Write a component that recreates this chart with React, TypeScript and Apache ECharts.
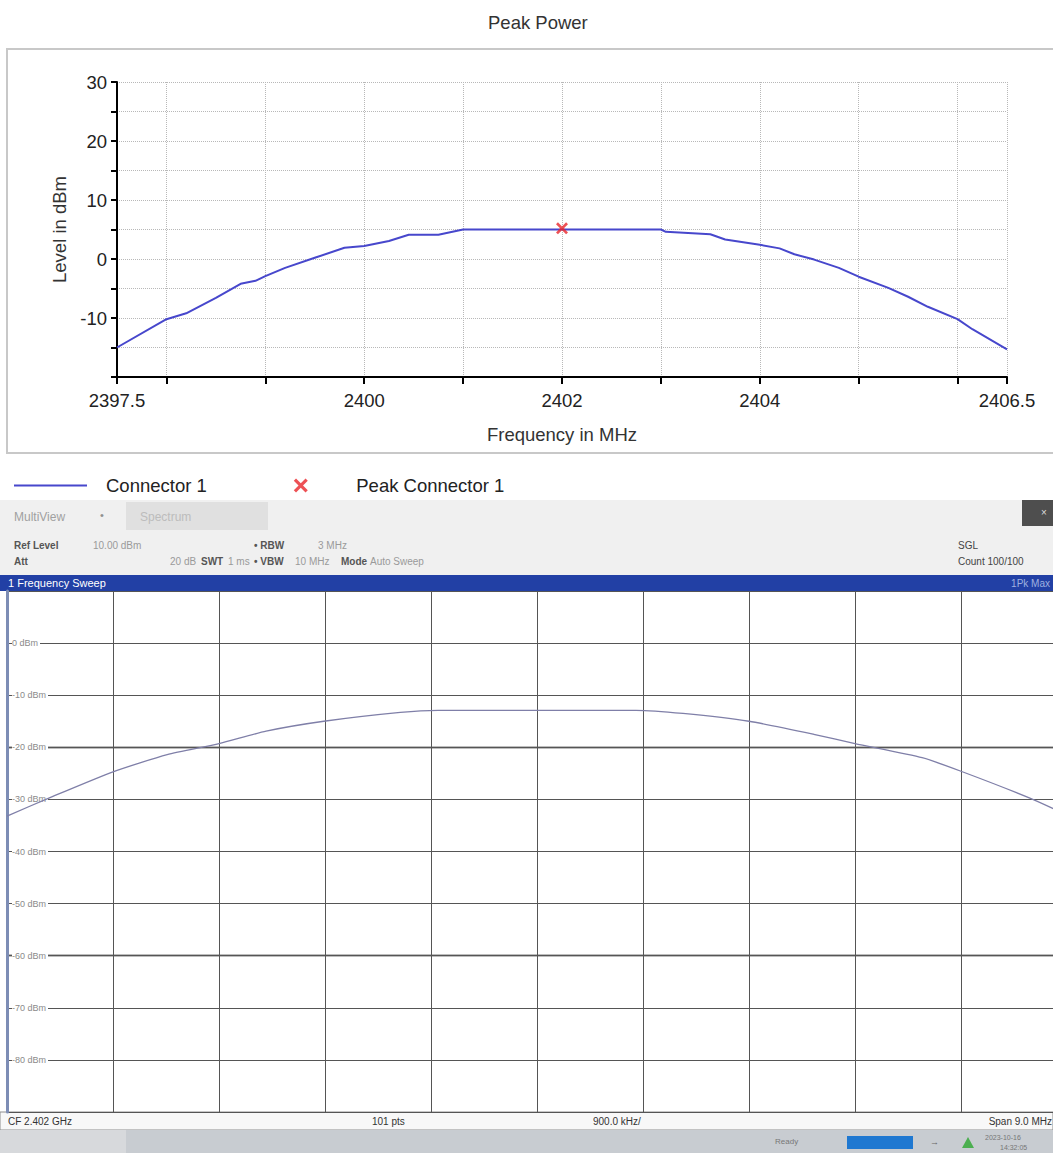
import React, { useEffect, useRef } from "react";
import * as echarts from "echarts";

// ---- Top chart: Peak Power ----
const freqMHz = [2397.5, 2398.0, 2398.2, 2398.5, 2398.75, 2398.9, 2399.0, 2399.2, 2399.5, 2399.8, 2400.0, 2400.25, 2400.45, 2400.75, 2401.0, 2402.0, 2403.0, 2403.05, 2403.5, 2403.65, 2404.0, 2404.2, 2404.35, 2404.55, 2404.8, 2405.0, 2405.3, 2405.5, 2405.7, 2406.0, 2406.15, 2406.5];
const levelDbm = [-15.0, -10.2, -9.2, -6.6, -4.2, -3.7, -2.9, -1.5, 0.2, 1.9, 2.2, 3.05, 4.1, 4.1, 5.0, 5.0, 5.0, 4.6, 4.2, 3.3, 2.4, 1.8, 0.8, -0.1, -1.5, -3.0, -4.9, -6.4, -8.1, -10.2, -11.9, -15.3];
const peakFreq = [2402.0];
const peakLevel = [5.2];
const xTickValues = [2397.5, 2398, 2399, 2400, 2401, 2402, 2403, 2404, 2405, 2406, 2406.5];
const xLabelValues = [2397.5, 2400, 2402, 2404, 2406.5];
const yLabelValues = [30, 20, 10, 0, -10];

// ---- Bottom: spectrum analyzer trace ----
const specFreq = [2397.5, 2397.87, 2398.4, 2398.86, 2399.3, 2399.7, 2400.19, 2400.84, 2401.16, 2402.84, 2403.24, 2403.8, 2404.35, 2404.7, 2405.27, 2405.6, 2406.19, 2406.5];
const specLevel = [-33.2, -29.6, -24.7, -21.4, -19.3, -16.9, -15.0, -13.3, -12.9, -12.9, -13.5, -15.0, -17.5, -19.3, -22.0, -24.6, -29.8, -33.0];
const specLabelValues = [0, -10, -20, -30, -40, -50, -60, -70, -80];
const specThickLines = [-20, -60];

const FONT = "'Liberation Sans', Arial, sans-serif";
const XMARK = "path://M0,1.6 L1.6,0 L5,3.4 L8.4,0 L10,1.6 L6.6,5 L10,8.4 L8.4,10 L5,6.6 L1.6,10 L0,8.4 L3.4,5 Z";
const LINE_ICON = "path://M0,0 L73,0 L73,2 L0,2 Z";

function txt(text: string, x: number, y: number, fill: string, size = 10, extra: any = {}) {
  return {
    type: "text",
    x,
    y,
    z: 10,
    style: {
      text,
      fill,
      fontSize: size,
      fontFamily: FONT,
      verticalAlign: "middle",
      align: "left",
      ...extra,
    },
  };
}

export default function App() {
  const ref = useRef<HTMLDivElement>(null);
  useEffect(() => {
    if (!ref.current) return;
    const chart = echarts.init(ref.current, undefined, { renderer: "svg" });
    const graphics: any[] = [
      { type: "rect", z: -1, shape: { x: 7, y: 49, width: 1060, height: 404 }, style: { fill: "none", stroke: "#c8c8c8", lineWidth: 2 } },
      // analyzer header
      { type: "rect", shape: { x: 0, y: 500, width: 1053, height: 75 }, style: { fill: "#f0f0f0" } },
      { type: "rect", shape: { x: 126, y: 502, width: 142, height: 28 }, style: { fill: "#e0e0e0" } },
      { type: "rect", shape: { x: 1022, y: 500, width: 31, height: 26 }, style: { fill: "#4e4e4e" } },
      txt("×", 1041, 512, "#dddddd", 10),
      txt("MultiView", 14, 517, "#a0a0a0", 12),
      txt("•", 100, 515, "#909090", 11),
      txt("Spectrum", 140, 517, "#bcbcbc", 12),
      txt("Ref Level", 14, 545, "#555", 10, { fontWeight: "bold" }),
      txt("10.00 dBm", 93, 545, "#9a9a9a", 10),
      txt("• RBW", 254, 545, "#555", 10, { fontWeight: "bold" }),
      txt("3 MHz", 318, 545, "#9a9a9a", 10),
      txt("Att", 14, 561, "#555", 10, { fontWeight: "bold" }),
      txt("20 dB", 170, 561, "#9a9a9a", 10),
      txt("SWT", 201, 561, "#555", 10, { fontWeight: "bold" }),
      txt("1 ms", 228, 561, "#9a9a9a", 10),
      txt("• VBW", 254, 561, "#555", 10, { fontWeight: "bold" }),
      txt("10 MHz", 295, 561, "#9a9a9a", 10),
      txt("Mode", 341, 561, "#555", 10, { fontWeight: "bold" }),
      txt("Auto Sweep", 370, 561, "#9a9a9a", 10),
      txt("SGL", 958, 545, "#444", 10),
      txt("Count 100/100", 958, 561, "#444", 10),
      { type: "rect", shape: { x: 0, y: 575, width: 1053, height: 16 }, style: { fill: "#2240a5" } },
      txt("1 Frequency Sweep", 8, 583, "#ffffff", 11),
      txt("1Pk Max", 1050, 583, "#9fb0e0", 10, { align: "right" }),
      // bottom strip
      { type: "rect", shape: { x: 0, y: 1112, width: 1053, height: 18 }, style: { fill: "#f8f8f8", stroke: "#8e8e8e", lineWidth: 1 } },
      txt("CF 2.402 GHz", 8, 1121, "#333", 10),
      txt("101 pts", 372, 1121, "#333", 10),
      txt("900.0 kHz/", 593, 1121, "#333", 10),
      txt("Span 9.0 MHz", 1052, 1121, "#333", 10, { align: "right" }),
      // status bar
      { type: "rect", shape: { x: 0, y: 1130, width: 1053, height: 23 }, style: { fill: "#c8ccd1" } },
      { type: "rect", shape: { x: 0, y: 1130, width: 126, height: 23 }, style: { fill: "#d7d9dc" } },
      txt("Ready", 775, 1141, "#777", 8),
      { type: "rect", shape: { x: 847, y: 1136, width: 66, height: 13 }, style: { fill: "#1f78d1" } },
      txt("→", 930, 1142, "#666", 9),
      { type: "polygon", shape: { points: [[962, 1148], [968, 1137], [974, 1148]] }, style: { fill: "#4caf50" } },
      txt("2023-10-16", 985, 1137, "#777", 7),
      txt("14:32:05", 1000, 1147, "#777", 7),
    ];

    chart.setOption({
      animation: false,
      backgroundColor: "#ffffff",
      title: {
        text: "Peak Power",
        left: 483,
        top: 8,
        textStyle: { fontFamily: FONT, fontSize: 18.5, fontWeight: "normal", color: "#333" },
      },
      legend: {
        left: 9,
        top: 471,
        itemWidth: 73,
        itemHeight: 14,
        itemGap: 87,
        textStyle: { fontFamily: FONT, fontSize: 18.5, color: "#222", padding: [0, 0, 0, 14] },
        data: [
          { name: "Connector 1", icon: LINE_ICON },
          { name: "Peak Connector 1", icon: XMARK },
        ],
      },
      grid: [
        { left: 117, right: 46, top: 82, bottom: 776 },
        { left: 7, width: 1060, top: 591, height: 521, outerBoundsMode: "none" },
      ],
      xAxis: [
        {
          gridIndex: 0,
          type: "value",
          min: 2397.5,
          max: 2406.5,
          name: "Frequency in MHz",
          nameLocation: "middle",
          nameGap: 48,
          nameTextStyle: { fontFamily: FONT, fontSize: 18.5, color: "#333" },
          axisLine: { onZero: false, lineStyle: { color: "#000", width: 2 } },
          axisTick: { customValues: xTickValues, length: 7, lineStyle: { color: "#000", width: 2 } },
          axisLabel: {
            customValues: xLabelValues,
            fontFamily: FONT,
            fontSize: 18.5,
            color: "#222",
            margin: 14,
            formatter: (v: number) => String(v),
          },
          splitLine: { show: true, lineStyle: { type: "dotted", color: "#b8b8b8", width: 1 } },
        },
        { gridIndex: 1, type: "value", min: 2397.5, max: 2406.5, show: false },
        {
          gridIndex: 1,
          type: "value",
          min: 0,
          max: 10,
          interval: 1,
          z: 3,
          axisLine: { show: false },
          axisTick: { show: false },
          axisLabel: { show: false },
          splitLine: { show: true, lineStyle: { color: "#555", width: 1 } },
        },
      ],
      yAxis: [
        {
          gridIndex: 0,
          type: "value",
          min: -20,
          max: 30,
          interval: 5,
          name: "Level in dBm",
          nameLocation: "middle",
          nameGap: 47,
          nameTextStyle: { fontFamily: FONT, fontSize: 18.5, color: "#333" },
          axisLine: { show: true, lineStyle: { color: "#000", width: 2 } },
          axisTick: { show: true, length: 6, lineStyle: { color: "#000", width: 2 } },
          axisLabel: {
            fontFamily: FONT,
            fontSize: 18.5,
            color: "#222",
            margin: 10,
            formatter: (v: number) => (yLabelValues.indexOf(v) >= 0 ? String(v) : ""),
          },
          splitLine: { show: true, lineStyle: { type: "dotted", color: "#b8b8b8", width: 1 } },
        },
        {
          gridIndex: 1,
          type: "value",
          min: -90,
          max: 10,
          interval: 10,
          z: 3,
          axisLine: { show: true, lineStyle: { color: "#7d8db5", width: 3 } },
          axisTick: { show: false },
          axisLabel: {
            inside: true,
            margin: 5,
            fontFamily: FONT,
            fontSize: 9,
            color: "#8a8a8a",
            backgroundColor: "#ffffff",
            padding: [0, 2, 0, 0],
            formatter: (v: number) => (specLabelValues.indexOf(v) >= 0 ? `${v} dBm` : ""),
          },
          splitLine: { show: true, lineStyle: { color: "#555", width: 1 } },
        },
      ],
      series: [
        {
          name: "Connector 1",
          type: "line",
          xAxisIndex: 0,
          yAxisIndex: 0,
          data: freqMHz.map((f, i) => [f, levelDbm[i]]),
          symbol: "none",
          color: "#4747cc",
          lineStyle: { color: "#4747cc", width: 2 },
          z: 3,
        },
        {
          name: "Peak Connector 1",
          type: "scatter",
          xAxisIndex: 0,
          yAxisIndex: 0,
          data: peakFreq.map((f, i) => [f, peakLevel[i]]),
          symbol: XMARK,
          symbolSize: 12,
          color: "#e8262b",
          itemStyle: { color: "#e8262b" },
          z: 4,
        },
        {
          name: "Display lines",
          type: "line",
          xAxisIndex: 1,
          yAxisIndex: 1,
          data: [],
          z: 1,
          markLine: {
            z: 1,
            silent: true,
            symbol: "none",
            label: { show: false },
            lineStyle: { color: "#bdbdbd", width: 3, type: "solid" },
            data: specThickLines.map((v) => ({ yAxis: v })),
          },
        },
        {
          name: "Trace",
          type: "line",
          xAxisIndex: 1,
          yAxisIndex: 1,
          data: specFreq.map((f, i) => [f, specLevel[i]]),
          symbol: "none",
          smooth: 0.2,
          lineStyle: { color: "#7f7fa8", width: 1.3 },
          z: 5,
        },
      ],
      graphic: graphics,
    });
    return () => chart.dispose();
  }, []);
  return (
    <div
      ref={ref}
      style={{ position: "absolute", left: 0, top: 0, width: 1053, height: 1153, background: "#fff" }}
    />
  );
}
